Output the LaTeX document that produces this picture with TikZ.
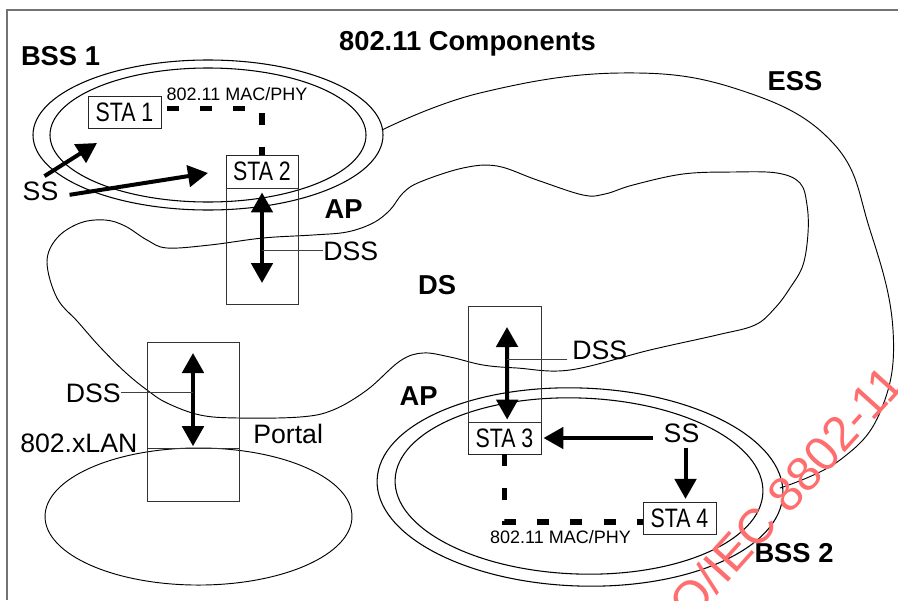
\documentclass[tikz,border=0pt]{standalone}
\usepackage{fontspec}
\setmainfont{Liberation Sans}
\newfontfamily\stafont[FakeStretch=0.8]{Liberation Sans}
\usetikzlibrary{arrows.meta}
\definecolor{wmred}{RGB}{255,110,110}
\begin{document}
\begin{tikzpicture}[x=0.75pt,y=-0.75pt,
  lab/.style={inner sep=0pt, font=\fontsize{20pt}{24pt}\selectfont},
  blab/.style={inner sep=0pt, font=\bfseries\fontsize{20.5pt}{24pt}\selectfont},
  smalllab/.style={inner sep=0pt, font=\fontsize{13.5pt}{16pt}\selectfont},
  stabox/.style={draw=black!85, line width=0.7pt, minimum width=54.75pt, minimum height=24pt, inner sep=0pt, font=\stafont\fontsize{20pt}{24pt}\selectfont},
  apbox/.style={draw=black!80, line width=0.7pt, inner sep=0pt},
  ring/.style={line width=0.8pt},
  thincurve/.style={line width=0.7pt},
  bigarrow/.style={line width=3pt, -{Triangle[length=15pt,width=16pt]}},
  dblarrow/.style={line width=3pt, {Triangle[length=15pt,width=16pt]}-{Triangle[length=15pt,width=16pt]}},
  macline/.style={line width=4pt, dash pattern=on 9pt off 16pt},
  leader/.style={draw=black!75, line width=0.6pt},
  frameline/.style={draw=black!55, line width=1.3pt},
  wm/.style={inner sep=0pt, text=wmred, font=\fontsize{36.5pt}{40pt}\selectfont}
]
\useasboundingbox (0,0) rectangle (898,600);
\clip (0,0) rectangle (898,600);
\draw[frameline] (7,600) -- (7,10) -- (898,10);

% BSS rings and LAN
\draw[ring] (208,135) ellipse [x radius=131.25pt, y radius=56.25pt];
\draw[ring] (208,135) ellipse [x radius=118.5pt, y radius=50.25pt];
\draw[ring] (580,487) ellipse [x radius=152.25pt, y radius=74.25pt, rotate=-2];
\draw[ring] (579,486) ellipse [x radius=138pt, y radius=66pt, rotate=-2];
\draw[thincurve] (198.5,516.5) ellipse [x radius=115.1pt, y radius=51.4pt];

% ESS curve
\draw[thincurve] plot[smooth, tension=0.7] coordinates {(382,130) (480,93) (620,73) (740,90) (833,143) (870,230) (893,330) (881,410) (840,460) (780,488)};

% DS blob
\draw[thincurve] plot[smooth cycle, tension=0.6] coordinates {(47,262) (57,238) (80,223) (105,220) (125,226) (147,240) (167,248) (210,245) (263,238) (313,235) (347,232) (373,223) (390,210) (403,193) (420,182) (463,168) (497,166) (537,180) (583,195) (605,194) (633,185) (683,174) (733,172) (777,173) (800,183) (807,205) (808,233) (803,265) (790,288) (775,308) (755,325) (717,335) (650,350) (570,370) (517,368) (483,365) (450,357) (423,353) (400,361) (367,390) (333,410) (300,417) (238,418) (200,415) (167,403) (147,390) (125,372) (100,347) (78,322) (57,298)};

% boxes
\node[stabox] (sta1) at (124.5,112.5) {STA 1};
\node[stabox, minimum width=54pt, minimum height=24.75pt] (sta2) at (262,171.5) {STA 2};
\node[apbox, minimum width=54pt, minimum height=87pt] (ap1) at (262,246) {};
\node[stabox] (sta3) at (504.5,438) {STA 3};
\node[apbox, minimum width=54.75pt, minimum height=87pt] (ap2) at (504.5,364) {};
\node[stabox] (sta4) at (679.5,518) {STA 4};
\node[apbox, minimum width=69pt, minimum height=79.5pt] (portal) at (193,395) {};
\node[apbox, minimum width=69pt, minimum height=39.75pt] (lanport) at (193,474.5) {};

% labels
\node[blab, anchor=base] (title) at (467.5,50) {802.11 Components};
\node[blab, anchor=base] (bss1) at (60.5,65) {BSS 1};
\node[blab, anchor=base] (ess) at (795,90) {ESS};
\node[blab, anchor=base] (ap1lab) at (343.5,218) {AP};
\node[blab, anchor=base] (dslab) at (437,294) {DS};
\node[blab, anchor=base] (ap2lab) at (418.5,405) {AP};
\node[blab, anchor=base] (bss2) at (794,562) {BSS 2};
\node[lab, anchor=base] (ss1) at (40.5,200) {SS};
\node[lab, anchor=base] (ss2) at (681.5,442) {SS};
\node[lab, anchor=base west] (dss1) at (323,260) {DSS};
\node[lab, anchor=base east] (dss2) at (121,402) {DSS};
\node[lab, anchor=base west] (dss3) at (572,359) {DSS};
\node[lab, anchor=base west] (xlan) at (20,452) {802.xLAN};
\node[lab, anchor=base west] (portallab) at (253,443) {Portal};
\node[smalllab, anchor=base] (mac1) at (237,100) {802.11 MAC/PHY};
\node[smalllab, anchor=base] (mac2) at (560.5,543) {802.11 MAC/PHY};

% MAC/PHY links
\draw[macline, dash phase=21pt] ([yshift=3pt]sta1.east) -| (sta2.north);
\draw[macline] (sta3.south) |- ([yshift=-3pt]sta4.west);

% DSS double arrows
\coordinate (a1b) at (262,283);
\draw[dblarrow, shorten <=3pt] (sta2.south) -- (a1b);
\coordinate (a2t) at (193,353);
\draw[dblarrow, shorten >=1pt] (a2t) -- (lanport.north);
\coordinate (a3t) at (507,327);
\coordinate (a3b) at ([xshift=2pt]sta3.north);
\draw[dblarrow, shorten >=1.5pt] (a3t) -- (a3b);

% leader lines
\draw[leader] (dss1.west) -- (dss1.west -| sta2.south);
\draw[leader] (dss2.east) -- (dss2.east -| portal.north);
\coordinate (d3s) at ([xshift=-3.5pt]dss3.base west);
\draw[leader] (d3s) -- (d3s -| a3t);

% SS arrows
\coordinate (t1) at (97,143);
\coordinate (t2) at (208,173);
\draw[bigarrow] ([shift={(4,-5)}]ss1.north) -- (t1);
\draw[bigarrow] ([shift={(11,4)}]ss1.east) -- (t2);
\coordinate (ss2w) at ([xshift=-8pt]ss2.west);
\draw[bigarrow, shorten >=1.5pt] (ss2w |- sta3.east) -- (sta3.east);
\coordinate (ss2s) at ([shift={(4,5)}]ss2.south);
\draw[bigarrow, shorten >=2pt] (ss2s) -- (ss2s |- sta4.north);

% watermark
\node[wm, rotate=48, anchor=base west] (wmark) at (691.3,623.9) {O/IEC 8802-11};
\end{tikzpicture}
\end{document}
